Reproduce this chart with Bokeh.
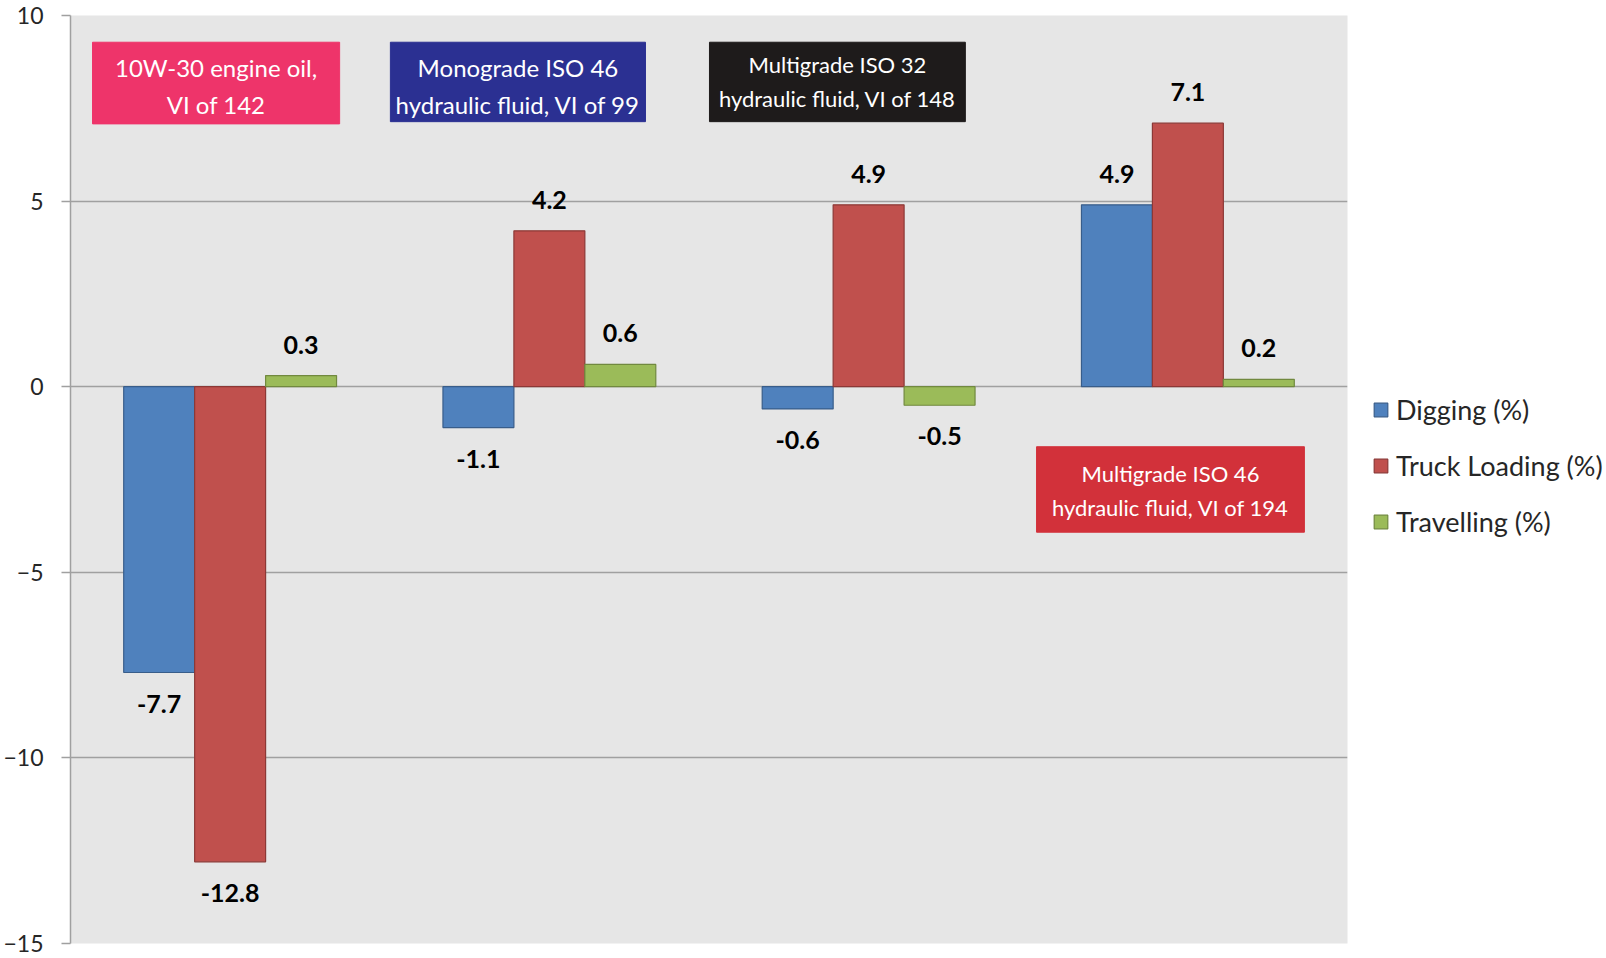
from bokeh.plotting import figure
from bokeh.models import Range1d, Legend, LegendItem, ColumnDataSource, FixedTicker
from bokeh.core.properties import value
from bokeh.embed import file_html
from bokeh.resources import INLINE

# ---- data ----
categories = ["10W-30 engine oil", "Monograde ISO 46", "Multigrade ISO 32", "Multigrade ISO 46"]
series_names = ["Digging (%)", "Truck Loading (%)", "Travelling (%)"]
digging = [-7.7, -1.1, -0.6, 4.9]
truck_loading = [-12.8, 4.2, 4.9, 7.1]
travelling = [0.3, 0.6, -0.5, 0.2]
y_ticks = [-15, -10, -5, 0, 5, 10]

box_texts = ["10W-30 engine oil,\nVI of 142",
             "Monograde ISO 46\nhydraulic fluid, VI of 99",
             "Multigrade ISO 32\nhydraulic fluid, VI of 148",
             "Multigrade ISO 46\nhydraulic fluid, VI of 194"]

# ---- styling / layout of annotation boxes (data coords) ----
box_left = [0.069, 1.002, 2.0015, 3.026]
box_right = [0.843, 1.801, 2.803, 3.865]
box_top = [9.28, 9.28, 9.28, -1.617]
box_bottom = [7.08, 7.14, 7.14, -3.92]
box_text_y = [8.1, 8.1, 8.22, -2.8]
box_colors = ["#EE346A", "#2B3092", "#1E1B1B", "#D2313A"]
box_font = ["24px", "24px", "22px", "22px"]
box_lh = [1.3, 1.3, 1.28, 1.28]

fills = ["#4F81BD", "#C0504D", "#9BBB59"]
lines = ["#385D8A", "#8C3836", "#71893F"]

p = figure(frame_width=1277, frame_height=928, output_backend="svg", toolbar_location=None,
           x_range=Range1d(0, len(categories)), y_range=Range1d(-15, 10),
           min_border_left=68, min_border_right=0, min_border_top=15, min_border_bottom=15)
p.background_fill_color = "#E6E6E6"
p.border_fill_color = "white"
p.outline_line_color = None
p.xaxis.visible = False
p.xgrid.visible = False
p.ygrid.ticker = FixedTicker(ticks=y_ticks)
p.ygrid.grid_line_color = "#A0A0A0"
p.ygrid.grid_line_width = 1.5
p.yaxis.ticker = FixedTicker(ticks=y_ticks)
p.yaxis.axis_line_color = "#A0A0A0"
p.yaxis.axis_line_width = 1.5
p.yaxis.major_tick_line_color = "#A0A0A0"
p.yaxis.major_tick_line_width = 1.5
p.yaxis.major_tick_out = 9
p.yaxis.major_tick_in = 0
p.yaxis.minor_tick_line_color = None
p.yaxis.major_label_text_font = "Lato"
p.yaxis.major_label_text_font_size = "23px"
p.yaxis.major_label_text_color = "#262626"
p.yaxis.major_label_standoff = 18

bw = 1 / 4.5
series = [digging, truck_loading, travelling]
renderers = []
for k, vals in enumerate(series):
    xs = [i + 0.5 + (k - 1) * bw for i in range(len(categories))]
    src = ColumnDataSource(dict(x=xs, top=vals, label=[f"{v:.1f}" for v in vals],
                                off=[-31 if v >= 0 else 31 for v in vals]))
    r = p.vbar(x="x", top="top", bottom=0, width=bw, source=src,
               fill_color=fills[k], line_color=lines[k], line_width=1.2)
    renderers.append(r)
    p.text(x="x", y="top", text="label", y_offset="off", source=src,
           text_align="center", text_baseline="middle",
           text_font=value("Lato"), text_font_style="bold", text_font_size="25px",
           text_color="black")

for i in range(len(box_texts)):
    p.quad(left=[box_left[i]], right=[box_right[i]], top=[box_top[i]], bottom=[box_bottom[i]],
           fill_color=box_colors[i], line_color=box_colors[i])
    p.text(x=[(box_left[i] + box_right[i]) / 2], y=[box_text_y[i]], text=[box_texts[i]],
           text_align="center", text_baseline="middle", text_color="white",
           text_font=value("Lato"), text_font_size=box_font[i], text_line_height=box_lh[i])

legend = Legend(items=[LegendItem(label=series_names[k], renderers=[renderers[k]]) for k in range(3)],
                location=(25, 405))
legend.border_line_color = None
legend.background_fill_alpha = 0
legend.label_text_font = "Lato"
legend.label_text_font_size = "27px"
legend.label_text_color = "#262626"
legend.glyph_width = 17
legend.glyph_height = 17
legend.label_height = 30
legend.label_standoff = 7
legend.spacing = 23
legend.padding = 0
legend.margin = 0
p.add_layout(legend, "right")

open("out.html", "w").write(file_html(p, INLINE))
